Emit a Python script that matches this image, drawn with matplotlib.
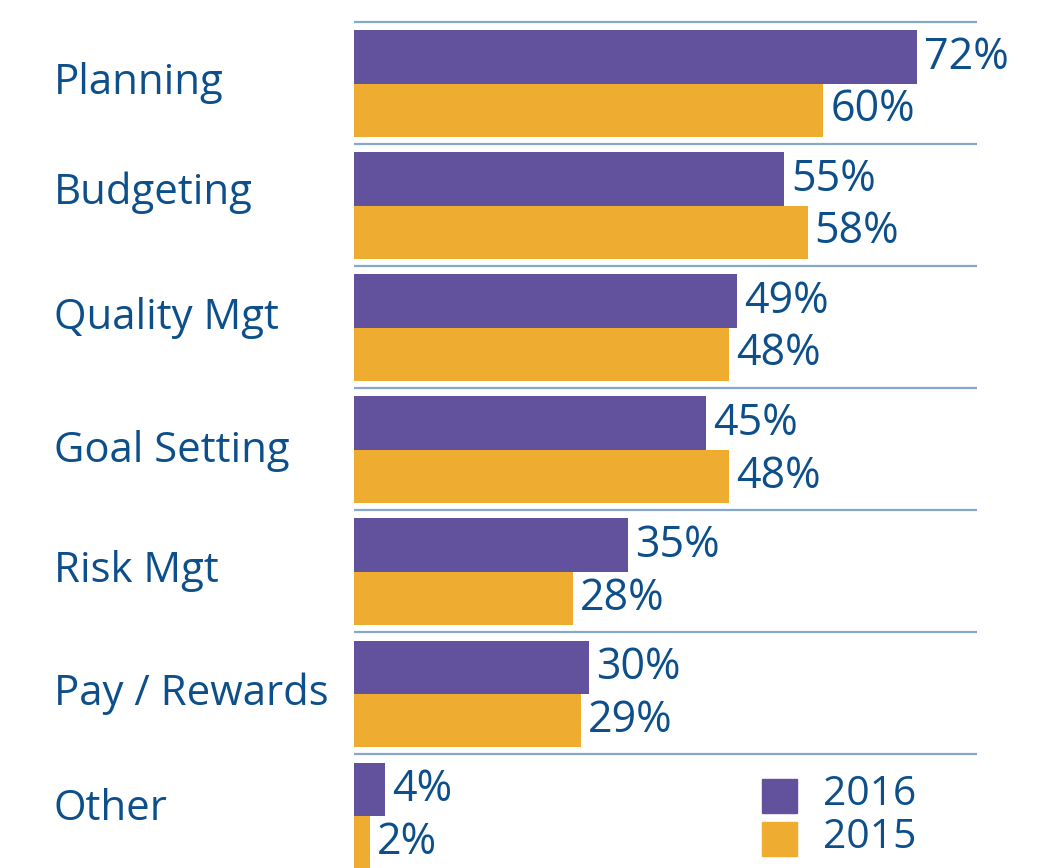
import matplotlib
matplotlib.use("Agg")
import matplotlib.pyplot as plt
import matplotlib.transforms as mtransforms
from matplotlib.patches import Rectangle
import numpy as np

# ---- data ----
categories = ["Planning", "Budgeting", "Quality Mgt", "Goal Setting",
              "Risk Mgt", "Pay / Rewards", "Other"]
values_2016 = [72, 55, 49, 45, 35, 30, 4]
values_2015 = [60, 58, 48, 48, 28, 29, 2]
series_names = ["2016", "2015"]

# ---- style ----
PURPLE = "#62519c"
ORANGE = "#eeac31"
TEXT = "#0c4f8a"
LINE = "#86a8cb"
plt.rcParams['font.family'] = ['Open Sans', 'DejaVu Sans']

W, H = 1040, 868
fig = plt.figure(figsize=(W / 100, H / 100), dpi=100)
fig.patch.set_facecolor("white")

px_per_unit_x = 7.82     # pixels per percent
period = 122.1           # pixels per category
first_center = 83.5      # pixel y of first group center
left_px, right_px = 354, 977

ax = fig.add_axes([left_px / W, 0, (right_px - left_px) / W, 1])
ax.set_xlim(0, (right_px - left_px) / px_per_unit_x)
ax.set_ylim((H - first_center) / period, -first_center / period)
ax.axis("off")

y = np.arange(len(categories))
h = 53.5 / period

ax.barh(y - h / 2, values_2016, height=h, color=PURPLE, edgecolor="none")
ax.barh(y + h / 2, values_2015, height=h, color=ORANGE, edgecolor="none")

# separators above each group
sep = y - 62 / period
ax.hlines(sep, 0, ax.get_xlim()[1], color=LINE, lw=1.6, clip_on=False)

# value labels
for yi, v in zip(y, values_2016):
    ax.annotate(f"{v}%", xy=(v, yi - h / 2), xytext=(7, -12),
                textcoords="offset pixels", ha="left", va="baseline",
                fontsize=31, color=TEXT, annotation_clip=False)
for yi, v in zip(y, values_2015):
    ax.annotate(f"{v}%", xy=(v, yi + h / 2), xytext=(7, -11),
                textcoords="offset pixels", ha="left", va="baseline",
                fontsize=31, color=TEXT, annotation_clip=False)

# category labels (left-aligned in figure space)
label_dy = [10.5, -1.5, 1.5, 12, 10, 11, 4]  # pixel nudges
trans = mtransforms.blended_transform_factory(fig.transFigure, ax.transData)
for yi, cat, dy in zip(y, categories, label_dy):
    fig.text(54 / W, yi, cat,
             transform=trans + mtransforms.ScaledTranslation(0, -dy / 100, fig.dpi_scale_trans),
             ha="left", va="baseline", fontsize=30.2, color=TEXT)

# legend
leg_colors = [PURPLE, ORANGE]
sq_tops = [779, 822]
for name, col, top in zip(series_names, leg_colors, sq_tops):
    fig.patches.append(Rectangle((762 / W, 1 - (top + 34) / H), 35 / W, 34 / H,
                                 transform=fig.transFigure, color=col))
    fig.text(823 / W, 1 - (top + 26) / H, name, ha="left", va="baseline",
             fontsize=29.3, color=TEXT)

fig.savefig("out.png", dpi=100, facecolor="white")
